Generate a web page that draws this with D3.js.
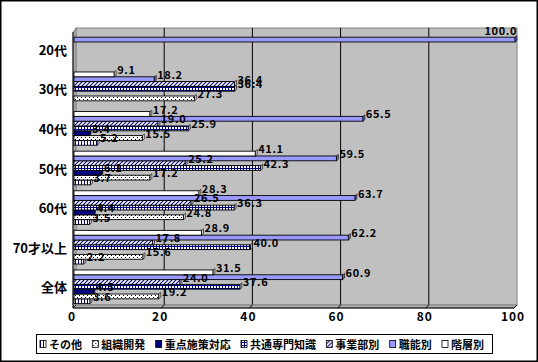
<!DOCTYPE html>
<html>
<head>
<meta charset="utf-8">
<script src="https://cdn.jsdelivr.net/npm/d3@7"></script>
<style>
  body { margin: 0; background: #fff; }
  text { font-family: "Noto Sans CJK JP", "Noto Sans", sans-serif; font-weight: bold; }
</style>
</head>
<body>
<svg id="chart" width="538" height="362"></svg>
<script>
// categories, top to bottom
const categories = ['20代', '30代', '40代', '50代', '60代', '70才以上', '全体']
// series in legend order (first series is drawn at the bottom of each group)
const seriesNames = ['その他', '組織開発', '重点施策対応', '共通専門知識', '事業部別', '職能別', '階層別']
const sonota  = [0, 0, 5.2, 3.7, 3.5, 2.2, 3.6]
const soshiki = [0, 27.3, 15.5, 17.2, 24.8, 15.6, 19.2]
const juten   = [0, 0, 3.4, 6.1, 4.4, 0, 4.3]
const kyotsu  = [0, 36.4, 25.9, 42.3, 36.3, 40.0, 37.6]
const jigyo   = [0, 36.4, 19.0, 25.2, 26.5, 17.8, 24.0]
const shokuno = [100.0, 18.2, 65.5, 59.5, 63.7, 62.2, 60.9]
const kaiso   = [0, 9.1, 17.2, 41.1, 28.3, 28.9, 31.5]
const tickValues = [0, 20, 40, 60, 80, 100]

const seriesValues = [sonota, soshiki, juten, kyotsu, jigyo, shokuno, kaiso]

const svg = d3.select('#chart')
const defs = svg.append('defs')
const navy = '#000080'

// fill patterns
function pattern(id, w, h, draw){
  const p = defs.append('pattern')
    .attr('id', id)
    .attr('patternUnits', 'userSpaceOnUse')
    .attr('width', w).attr('height', h)
  p.append('rect').attr('width', w).attr('height', h).attr('fill', '#fff')
  draw(p)
}
pattern('p-sonota', 3, 3, p => p.append('rect').attr('width', 1).attr('height', 3).attr('fill', navy))
pattern('p-soshiki', 4, 4, p => {
  p.append('rect').attr('x', 1).attr('y', 1).attr('width', 1).attr('height', 1).attr('fill', '#000')
  p.append('rect').attr('x', 3).attr('y', 3).attr('width', 1).attr('height', 1).attr('fill', '#000')
})
pattern('p-kyotsu', 3, 3, p => {
  p.append('rect').attr('width', 3).attr('height', 1).attr('fill', navy)
  p.append('rect').attr('width', 1).attr('height', 3).attr('fill', navy)
})
pattern('p-jigyo', 4, 4, p => {
  p.append('path').attr('d', 'M0,4 L4,0 M-1,1 L1,-1 M3,5 L5,3')
    .attr('stroke', navy).attr('stroke-width', 1.1)
})

const fills = {
  'その他': 'url(#p-sonota)',
  '組織開発': 'url(#p-soshiki)',
  '重点施策対応': navy,
  '共通専門知識': 'url(#p-kyotsu)',
  '事業部別': 'url(#p-jigyo)',
  '職能別': '#9999FF',
  '階層別': '#FFFFFF',
}
const capFills = {
  'その他': '#c8c8e0',
  '組織開発': '#d8d8d8',
  '重点施策対応': '#000060',
  '共通専門知識': '#b0b0d8',
  '事業部別': '#c0c0e0',
  '職能別': '#7070d0',
  '階層別': '#d0d0d0',
}

const depth = 2
const x = d3.scaleLinear().domain([0, 100]).range([74, 515])
const y = d3.scaleBand().domain(categories).range([29.4, 306.6])
  .paddingInner(0.15).paddingOuter(0.075)
const ySub = d3.scaleBand().domain(seriesNames.slice().reverse()).range([0, y.bandwidth()])

const plotTop = 28, plotBottom = 305

// outer border
svg.append('rect').attr('x', 0.75).attr('y', 0.75).attr('width', 536.5).attr('height', 360.5)
  .attr('fill', '#fff').attr('stroke', '#000').attr('stroke-width', 1.5)

// back wall
svg.append('rect')
  .attr('x', x(0) + depth).attr('y', plotTop)
  .attr('width', x(100) - x(0)).attr('height', plotBottom - plotTop)
  .attr('fill', '#C0C0C0').attr('stroke', '#808080').attr('stroke-width', 1)

// left wall
svg.append('path')
  .attr('d', `M${x(0) - 1},${plotTop + depth + 2} L${x(0) + depth},${plotTop} L${x(0) + depth},${plotBottom} L${x(0) - 1},${plotBottom + 3} Z`)
  .attr('fill', '#a8a8a8').attr('stroke', '#808080').attr('stroke-width', 0.8)
svg.append('line')
  .attr('x1', x(0) - 1).attr('x2', x(0) - 1)
  .attr('y1', plotTop + depth + 2).attr('y2', plotBottom + 3)
  .attr('stroke', '#000').attr('stroke-width', 1)

// gridlines on the back wall
svg.append('g').selectAll('line').data(tickValues.filter(t => t > 0 && t < 100))
  .enter().append('line')
    .attr('x1', d => x(d) + depth).attr('x2', d => x(d) + depth)
    .attr('y1', plotTop).attr('y2', plotBottom)
    .attr('stroke', '#000').attr('stroke-width', 1)

// floor
svg.append('path')
  .attr('d', `M${x(0) - 1},${plotBottom + 3} L${x(0) + depth},${plotBottom} L${x(100) + depth},${plotBottom} L${x(100) - 1},${plotBottom + 3} Z`)
  .attr('fill', '#b0b0b0').attr('stroke', '#808080').attr('stroke-width', 0.8)
svg.append('line')
  .attr('x1', x(0) - 1).attr('x2', x(100) - 1)
  .attr('y1', plotBottom + 3).attr('y2', plotBottom + 3)
  .attr('stroke', '#000').attr('stroke-width', 1.2)
svg.append('g').selectAll('path').data(tickValues)
  .enter().append('path')
    .attr('d', d => `M${x(d) - 1},${plotBottom + 3} L${x(d) + depth},${plotBottom}`)
    .attr('stroke', '#000').attr('stroke-width', 1)

// bars
const barData = []
categories.forEach((c, ci) => {
  seriesNames.forEach((s, si) => {
    barData.push({ cat: c, series: s, value: seriesValues[si][ci] })
  })
})
const shown = barData.filter(d => d.value > 0)
const h = ySub.bandwidth()

const bars = svg.append('g')
bars.selectAll('path.cap').data(shown)
  .enter().append('path')
    .attr('class', 'cap')
    .attr('d', d => {
      const x1 = x(d.value), y0 = y(d.cat) + ySub(d.series)
      return `M${x1},${y0} L${x1 + depth},${y0 - 1.5} L${x1 + depth},${y0 + h - 1.5} L${x1},${y0 + h} Z`
    })
    .attr('fill', d => capFills[d.series])
    .attr('stroke', '#000').attr('stroke-width', 0.6)
bars.selectAll('rect').data(shown)
  .enter().append('rect')
    .attr('x', x(0))
    .attr('y', d => y(d.cat) + ySub(d.series))
    .attr('width', d => x(d.value) - x(0))
    .attr('height', h)
    .attr('fill', d => fills[d.series])
    .attr('stroke', '#000').attr('stroke-width', 0.9)

// value labels; a label that would run past the frame sits above its bar end
svg.append('g').selectAll('text').data(shown)
  .enter().append('text')
    .attr('x', d => x(d.value) + depth + 1)
    .attr('y', d => y(d.cat) + ySub(d.series) + 2)
    .attr('font-size', 11)
    .attr('letter-spacing', 0.6)
    .attr('fill', '#000')
    .text(d => d.value.toFixed(1))
    .each(function(d){
      const t = d3.select(this)
      if(x(d.value) + depth + 1 + this.getComputedTextLength() > 532){
        t.attr('x', x(d.value) + depth).attr('text-anchor', 'end')
          .attr('y', y(d.cat) + ySub(d.series) - 2)
      }
    })

// category labels
svg.append('g').selectAll('text').data(categories)
  .enter().append('text')
    .attr('x', 67)
    .attr('y', d => y(d) + y.bandwidth() / 2 + 5.5)
    .attr('text-anchor', 'end')
    .attr('font-size', 13)
    .text(d => d)

// x tick labels
svg.append('g').selectAll('text').data(tickValues)
  .enter().append('text')
    .attr('x', d => x(d) - 2)
    .attr('y', 321)
    .attr('text-anchor', 'middle')
    .attr('font-size', 12)
    .attr('letter-spacing', 1)
    .text(d => d)

// legend
const legend = svg.append('g')
legend.append('rect').attr('x', 36.5).attr('y', 334.5).attr('width', 456).attr('height', 19)
  .attr('fill', '#fff').attr('stroke', '#000').attr('stroke-width', 1)
const items = legend.selectAll('g.item').data(seriesNames)
  .enter().append('g').attr('class', 'item')
items.append('rect')
  .attr('width', 6).attr('height', 7).attr('y', 340.5)
  .attr('fill', d => fills[d]).attr('stroke', '#000').attr('stroke-width', 0.8)
items.append('text')
  .attr('x', 9).attr('y', 348.5)
  .attr('font-size', 11)
  .text(d => d)
const widths = []
items.each(function(){ widths.push(9 + d3.select(this).select('text').node().getComputedTextLength()) })
const gap = (484 - 40 - d3.sum(widths)) / (seriesNames.length - 1)
let cursor = 40
items.each(function(d, i){
  d3.select(this).attr('transform', `translate(${cursor},0)`)
  cursor += widths[i] + gap
})
</script>
</body>
</html>
